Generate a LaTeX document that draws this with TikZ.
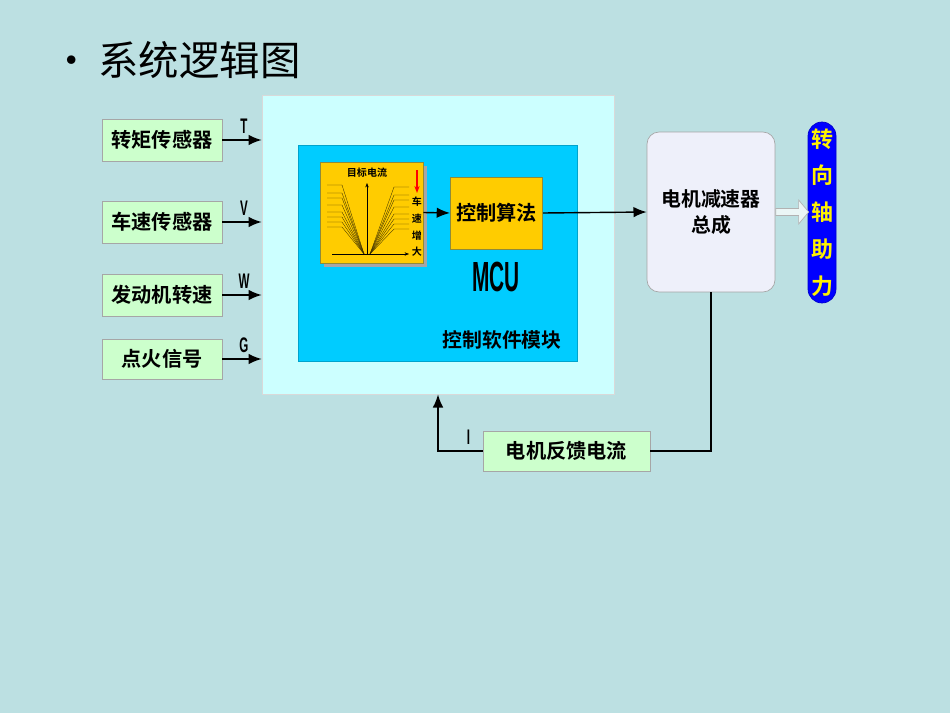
\documentclass[tikz,border=0pt]{standalone}
\usepackage{fontspec}
\newfontfamily\cjk[BoldFont={Noto Sans CJK SC Bold}]{Noto Sans CJK SC}
\newfontfamily\narrowfont[FakeStretch=0.55]{Liberation Sans}
\usetikzlibrary{arrows.meta,shapes.arrows,shadows}
\definecolor{bgteal}{HTML}{BCE0E2}
\definecolor{sensorgreen}{HTML}{CCFFCC}
\definecolor{palecyan}{HTML}{CCFFFF}
\definecolor{mcublue}{HTML}{00CCFF}
\definecolor{algoyellow}{HTML}{FFCC00}
\definecolor{motorgray}{HTML}{EEF0FA}
\begin{document}
\begin{tikzpicture}[x=0.02cm, y=-0.02cm,
    sensorbox/.style={draw=gray!70, fill=sensorgreen, minimum width=2.4cm, minimum height=0.84cm,
        font=\cjk\bfseries\fontsize{11.5}{13}\selectfont},
    yellowbox/.style={draw=olive!60!gray, fill=algoyellow},
    letter/.style={font=\narrowfont\bfseries\fontsize{12}{12}\selectfont},
    tiny/.style={font=\cjk\bfseries\fontsize{5.7}{6}\selectfont, inner sep=0pt},
    line/.style={-{Latex[length=7.5pt,width=6pt]}, thick}]
    \useasboundingbox (0,0) rectangle (950,713);
    \fill[bgteal] (0,0) rectangle (950,713);

    % title
    \node[anchor=west, font=\cjk\fontsize{23}{26}\selectfont] (title) at (45,60) {•\hspace{0.17em}系统逻辑图};

    % MCU block
    \node[draw=gray!30, fill=palecyan, minimum width=7.04cm, minimum height=5.98cm] (outer) at (438,244.5) {};
    \node[draw=mcublue!80!black, fill=mcublue, minimum width=5.58cm, minimum height=4.32cm] (inner) at (437.5,253) {};
    \node[yellowbox, minimum width=2.06cm, minimum height=2.02cm,
        drop shadow={shadow xshift=2pt, shadow yshift=-2pt, fill=gray!70, opacity=1}] (chart) at (371.5,212.5) {};
    \node[yellowbox, minimum width=1.82cm, minimum height=1.44cm,
        font=\cjk\bfseries\fontsize{11.5}{13}\selectfont] (algo) at (496.5,213) {控制算法};
    \node[font=\narrowfont\bfseries\fontsize{24}{24}\selectfont, xscale=0.9] (mcu) at (496,277) {MCU};
    \node[font=\cjk\bfseries\fontsize{11.3}{13}\selectfont] (software) at (502,340) {控制软件模块};

    % curves inside the chart
    \draw[-{Stealth[length=2.5pt]}, very thin] (367,254) -- (367,183);
    \draw[-{Stealth[length=2.5pt]}, very thin] (332,254) -- (409,254);
    \foreach \h in {185,193,198,205,212,217,222,227} {
        \draw[very thin, black!75!algoyellow] (327,\h) -- (342,\h) -- (364,254);
        \draw[very thin, black!75!algoyellow] (409,\h+2) -- (394,\h+2) -- (370,254);
    }
    \node[tiny] (target) at (367,173) {目标电流};
    \draw[-{Stealth[length=4pt]}, red, thick] (417,170) -- (417,193);
    \node[tiny] (c1) at (417,202) {车};
    \node[tiny] (c2) at (417,219) {速};
    \node[tiny] (c3) at (417,236) {增};
    \node[tiny] (c4) at (417,252) {大};

    % sensors
    \node[sensorbox] (torque) at (162,140) {转矩传感器};
    \node[sensorbox] (speed) at (162,222) {车速传感器};
    \node[sensorbox] (engine) at (162,295) {发动机转速};
    \node[sensorbox, minimum height=0.8cm] (ignition) at (162,359) {点火信号};

    \draw[line] (torque.east) -- (torque.east -| outer.west) node[letter, above, pos=0.55] {T};
    \draw[line] (speed.east) -- (speed.east -| outer.west) node[letter, above, pos=0.55] {V};
    \draw[line] (engine.east) -- (engine.east -| outer.west) node[letter, above, pos=0.55] {W};
    \draw[line] (ignition.east) -- (ignition.east -| outer.west) node[letter, above, pos=0.55] {G};

    % motor and output
    \node[draw=gray!70, fill=motorgray, rounded corners=0.24cm, minimum width=2.56cm, minimum height=3.2cm,
        align=center, font=\cjk\bfseries\fontsize{11.3}{15}\selectfont] (motor) at (711,212) {电机减速器\\总成};
    \node[draw=blue!80!black, fill=blue, rounded corners=0.28cm, minimum width=0.56cm, minimum height=3.62cm,
        inner sep=0pt, align=center, text=yellow, font=\cjk\bfseries\fontsize{12.5}{21}\selectfont] (assist) at (822,212.5)
        {转\\向\\轴\\助\\力};
    \node[single arrow, draw=gray!60, fill=white!70!bgteal, anchor=west, minimum height=0.66cm,
        minimum width=0.48cm, single arrow head extend=0.1cm, single arrow tip angle=100, inner sep=1pt] (outarrow)
        at (motor.east) {};

    \node[sensorbox, minimum width=3.34cm, minimum height=0.8cm] (feedback) at (566.5,451) {电机反馈电流};

    \draw[line] (chart.east) -- (algo.west);
    \draw[line] (algo.east) -- (motor.west);
    \draw[thick] (motor.south) |- (feedback.east);
    \draw[line] (feedback.west) -| (outer.south) node[letter, pos=0.25, above right] {I};
\end{tikzpicture}
\end{document}
